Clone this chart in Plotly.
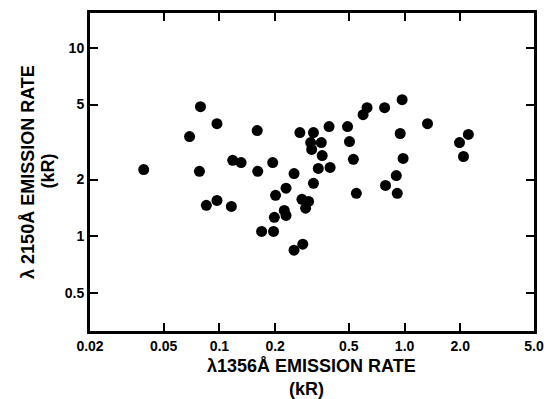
import plotly.graph_objects as go

# λ1356 emission rate (kR)
x_1356 = [0.039, 0.069, 0.079, 0.097, 0.078, 0.118, 0.131, 0.085, 0.097, 0.116,
          0.160, 0.272, 0.322, 0.391, 0.492, 0.627, 0.597, 0.311, 0.355, 0.315,
          0.504, 0.359, 0.529, 0.194, 0.161, 0.253, 0.342, 0.396, 0.322, 0.549,
          0.229, 0.201, 0.279, 0.303, 0.292, 0.224, 0.229, 0.198, 0.169, 0.196,
          0.282, 0.253, 0.780, 0.970, 1.33, 0.947, 2.21, 1.98, 2.08, 0.982,
          0.902, 0.789, 0.913]
# λ2150 emission rate (kR)
y_2150 = [2.26, 3.38, 4.87, 3.96, 2.21, 2.53, 2.46, 1.46, 1.55, 1.44,
          3.64, 3.55, 3.55, 3.82, 3.82, 4.81, 4.42, 3.14, 3.14, 2.89,
          3.18, 2.68, 2.56, 2.46, 2.21, 2.15, 2.29, 2.32, 1.91, 1.69,
          1.80, 1.65, 1.57, 1.53, 1.41, 1.37, 1.29, 1.26, 1.06, 1.06,
          0.907, 0.843, 4.81, 5.31, 3.96, 3.51, 3.47, 3.14, 2.65, 2.59,
          2.10, 1.86, 1.69]

x_tickvals = [0.02, 0.05, 0.1, 0.2, 0.5, 1.0, 2.0, 5.0]
x_ticktext = ["0.02", "0.05", "0.1", "0.2", "0.5", "1.0", "2.0", "5.0"]
y_tickvals = [0.5, 1, 2, 5, 10]
y_ticktext = ["0.5", "1", "2", "5", "10"]

FONT = "Liberation Sans, Arial, sans-serif"

fig = go.Figure(go.Scatter(
    x=x_1356, y=y_2150, mode="markers",
    marker=dict(color="black", size=11, line=dict(width=0)),
    hoverinfo="skip", showlegend=False))

axis_common = dict(
    type="log", showgrid=False, zeroline=False,
    showline=True, linecolor="black", linewidth=3, mirror="ticks",
    ticks="inside", ticklen=8, tickwidth=2, tickcolor="black",
    tickfont=dict(family=FONT, size=14, color="black", weight="bold"),
)

title_font = dict(family=FONT, size=18, color="black", weight="bold")

fig.update_layout(
    width=554, height=399,
    margin=dict(l=90, r=10, t=12, b=68),
    paper_bgcolor="white", plot_bgcolor="white",
    xaxis=dict(range=[-1.69897, 0.69897], tickvals=x_tickvals, ticktext=x_ticktext, **axis_common),
    yaxis=dict(range=[-0.503, 1.185], tickvals=y_tickvals, ticktext=y_ticktext, **axis_common),
    annotations=[
        dict(text="λ1356Å EMISSION RATE", xref="paper", yref="paper",
             x=(316 - 90) / 454, y=(331 - 366) / 319, xanchor="center", yanchor="middle",
             showarrow=False, font=title_font),
        dict(text="(kR)", xref="paper", yref="paper",
             x=(311 - 90) / 454, y=(331 - 389) / 319, xanchor="center", yanchor="middle",
             showarrow=False, font=title_font),
        dict(text="λ 2150Å EMISSION RATE", xref="paper", yref="paper",
             x=(26 - 90) / 454, y=(331 - 171) / 319, xanchor="center", yanchor="middle",
             showarrow=False, textangle=-90, font=title_font),
        dict(text="(kR)", xref="paper", yref="paper",
             x=(47 - 90) / 454, y=(331 - 170) / 319, xanchor="center", yanchor="middle",
             showarrow=False, textangle=-90, font=title_font),
    ],
)

fig.write_html("out.html")
